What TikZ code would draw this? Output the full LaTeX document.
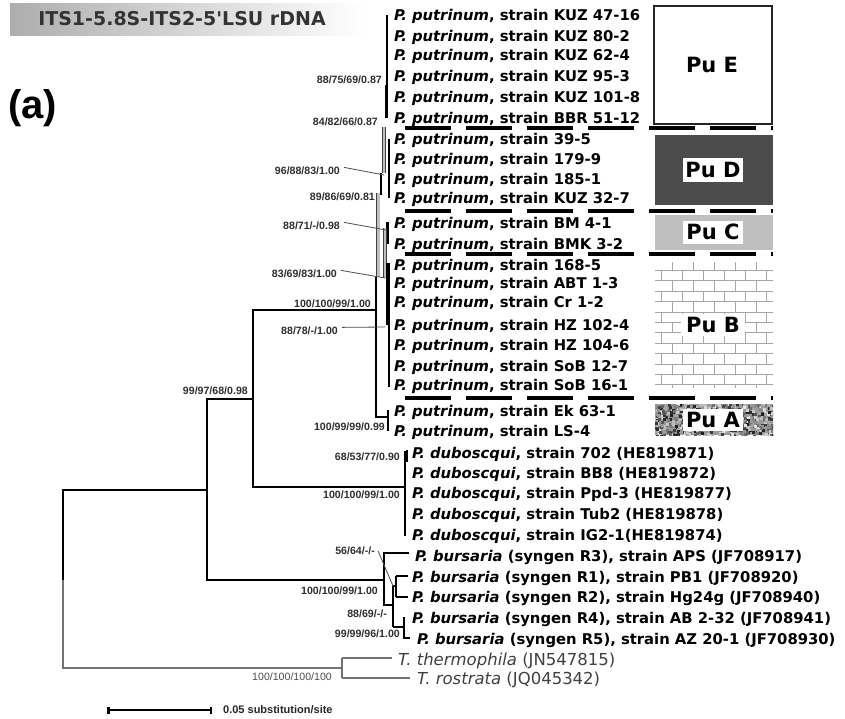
\documentclass[tikz,border=0pt]{standalone}
\usepackage{fontspec}
\setmainfont{DejaVu Sans}
\newfontfamily\labfont{Liberation Sans}
\usetikzlibrary{arrows.meta}
\begin{document}
\begin{tikzpicture}[x=1pt,y=-1pt,
 taxon/.style={anchor=base west,inner sep=0pt,font=\fontsize{14.8}{17}\selectfont\bfseries},
 outtaxon/.style={anchor=base west,inner sep=0pt,font=\fontsize{16.5}{19}\selectfont,text=black!75},
 supp/.style={anchor=base east,inner sep=0pt,font=\labfont\fontsize{10.6}{12}\selectfont\bfseries,text=black!82},
 branch/.style={line width=2.6pt,line cap=rect},
 twig/.style={line width=1.5pt},
 outbr/.style={line width=1.3pt,draw=black!55},
 hollow/.style={draw=black!75,line width=0.9pt,double=black!25,double distance=1.8pt},
 leader/.style={line width=0.8pt,draw=black!70},
 sepline/.style={line width=4pt,dash pattern=on 46pt off 15pt},
 pulab/.style={font=\fontsize{21}{24}\selectfont\bfseries,inner sep=0pt,fill=white,minimum width=60pt,minimum height=24pt},
 brick/.style={line width=0.9pt,draw=black!35},
]
\useasboundingbox (0,0) rectangle (845,718);

% title
\shade[left color=black!32,right color=white] (10,3) rectangle (365,35);
\node[font=\fontsize{19}{22}\selectfont\bfseries,text=black!80] (title) at (182,19) {ITS1-5.8S-ITS2-5\textquotesingle LSU rDNA};
\node[font=\labfont\fontsize{40}{44}\selectfont\bfseries,anchor=west,inner sep=0pt] (panel) at (8,108) {(a)};

% ---------- taxa ----------
\foreach \yy/\s [count=\i] in {15/KUZ 47-16,36/KUZ 80-2,55/KUZ 62-4,76/KUZ 95-3,97/KUZ 101-8,118/BBR 51-12,139/39-5,159/179-9,179/185-1,198/KUZ 32-7,223/BM 4-1,244/BMK 3-2,265/168-5,283/ABT 1-3,302/Cr 1-2,325/HZ 102-4,345/HZ 104-6,366/SoB 12-7,385/SoB 16-1,411/Ek 63-1,431/LS-4}
  \node[taxon] (pu\i) at (394,\yy+5) {\textit{P. putrinum}, strain \s};
\foreach \yy/\s [count=\i] in {453/702 (HE819871),473/BB8 (HE819872),493/Ppd-3 (HE819877),514/Tub2 (HE819878),535/IG2-1(HE819874)}
  \node[taxon] (du\i) at (412,\yy+5) {\textit{P. duboscqui}, strain \s};
\node[taxon] (bu1) at (415,561) {\textit{P. bursaria} (syngen R3), strain APS (JF708917)};
\node[taxon] (bu2) at (412,582) {\textit{P. bursaria} (syngen R1), strain PB1 (JF708920)};
\node[taxon] (bu3) at (412,602) {\textit{P. bursaria} (syngen R2), strain Hg24g (JF708940)};
\node[taxon] (bu4) at (412,623) {\textit{P. bursaria} (syngen R4), strain AB 2-32 (JF708941)};
\node[taxon] (bu5) at (417,644) {\textit{P. bursaria} (syngen R5), strain AZ 20-1 (JF708930)};
\node[outtaxon] (te1) at (398,665.5) {\textit{T. thermophila} (JN547815)};
\node[outtaxon] (te2) at (417,684.5) {\textit{T. rostrata} (JQ045342)};

% ---------- tree nodes ----------
\coordinate (r0) at (63,490);  \coordinate (r1) at (63,580);  \coordinate (r2) at (63,668);
\coordinate (a0) at (207,399); \coordinate (a1) at (207,490); \coordinate (a2) at (207,580);
\coordinate (b0) at (253,310); \coordinate (b1) at (253,399); \coordinate (b2) at (253,487);
\coordinate (c0) at (376,310); \coordinate (c1) at (376,277); \coordinate (c2) at (376,417);
\coordinate (k0) at (388,417); \coordinate (k1) at (388,410); \coordinate (k2) at (388,431);
\coordinate (d0) at (405,487); \coordinate (d1) at (405,452); \coordinate (d2) at (405,535);
\coordinate (e0) at (384,580); \coordinate (e1) at (384,553); \coordinate (e2) at (384,605);
\coordinate (f0) at (393,605); \coordinate (f1) at (393,586); \coordinate (f2) at (393,627);
\coordinate (g0) at (396,586); \coordinate (g1) at (396,576); \coordinate (g2) at (396,597);
\coordinate (h0) at (404,627); \coordinate (h1) at (404,617); \coordinate (h2) at (404,638);
\coordinate (t0) at (342,668); \coordinate (t1) at (342,658); \coordinate (t2) at (342,678);

% root and backbone
\draw[branch] (r1) -- (r0) -- (a1);
\draw[outbr] (r1) -- (r2) -- (t0);
\draw[branch] (a0) -- (a2);
\draw[branch] (a0) -- (b1);
\draw[branch] (b0) -- (b2);
\draw[branch] (b0) -- (c0);
\draw[branch] (b2) -- (d0);
\draw[branch] (d1) -- (d2);
\draw[line width=2.2pt] (407,450) -- (407,462);
% P. putrinum clade
\draw[twig] (c1) -- (c2) -- (k0);
\draw[twig] (k1) -- (k2);
\draw[hollow,double distance=3pt] (378,193) -- (378,277);
\draw[twig] (381,173) -- (381,195);
\draw[hollow] (384,127) -- (384,173);
\draw[twig] (387,15) -- (387,118);
\draw[line width=3pt] (386,85) -- (386,118);
\draw[twig] (389,139) -- (389,198);
\draw[line width=3pt] (387,222) -- (387,244);
\draw[hollow] (385,228) -- (385,278);
\draw[twig] (389,263) -- (389,387);
\draw[line width=3pt] (387,263) -- (387,325);
% P. bursaria clade
\draw[branch] (a2) -- (e0);
\draw[branch] (e1) -- (e2) -- (f0);
\draw[branch] (e1) -- (408,553);
\draw[line width=2.2pt] (f1) -- (f2);
\draw[line width=2.2pt] (f1) -- (g0);
\draw[line width=2.2pt] (g1) -- (g2);
\draw[line width=2.2pt] (g1) -- (408,576);
\draw[line width=2.2pt] (g2) -- (408,597);
\draw[line width=2.2pt] (f2) -- (h0);
\draw[line width=2.2pt] (h1) -- (h2) -- (410,638);
% Tetrahymena
\draw[outbr] (t1) -- (t2);
\draw[outbr] (t1) -- (392,658);
\draw[outbr] (t2) -- (410,678);

% ---------- support values ----------
\node[supp] (s1)  at (382,83.6)  {88/75/69/0.87};
\node[supp] (s2)  at (378,125.6) {84/82/66/0.87};
\node[supp] (s3)  at (340,174.6) {96/88/83/1.00};
\node[supp] (s4)  at (375,200.6) {89/86/69/0.81};
\node[supp] (s5)  at (340,229.6) {88/71/-/0.98};
\node[supp] (s6)  at (337,277.6) {83/69/83/1.00};
\node[supp] (s7)  at (371,307.6) {100/100/99/1.00};
\node[supp] (s8)  at (338,334.6) {88/78/-/1.00};
\node[supp] (s9)  at (248,394.6) {99/97/68/0.98};
\node[supp] (s10) at (385,430.6) {100/99/99/0.99};
\node[supp] (s11) at (400,460.6) {68/53/77/0.90};
\node[supp] (s12) at (400,498.6) {100/100/99/1.00};
\node[supp] (s13) at (375,554.6) {56/64/-/-};
\node[supp] (s14) at (378,594.6) {100/100/99/1.00};
\node[supp] (s15) at (387,617.6) {88/69/-/-};
\node[supp] (s16) at (400,637.6) {99/99/96/1.00};
\node[supp,font=\labfont\fontsize{10.6}{12}\selectfont,text=black!70] (s17) at (332,680.6) {100/100/100/100};
% leader lines
\draw[leader] (s3.east) ++(4,-3.5) -- (384,175);
\draw[leader] (s5.east) ++(4,-3.5) -- (386,230);
\draw[leader] (s6.east) ++(4,-3.5) -- (385,278);
\draw[leader] (s8.east) ++(4,-3.5) -- (385,327);
\draw[leader] (s13.east) ++(3,0) -- (f1);

% ---------- group separators ----------
\foreach \yy in {128,211,254,398} \draw[sepline] (405,\yy) -- (773,\yy);

% ---------- group boxes ----------
\draw[line width=2.5pt,draw=black!85,fill=white] (654,6) rectangle (772,124);
\node[pulab,fill=none] (puE) at (712,65) {Pu E};
\fill[black!70] (655,135) rectangle (773,205);
\node[pulab] (puD) at (713,170) {Pu D};
\fill[black!25] (655,215) rectangle (773,250);
\node[pulab,minimum height=23pt] (puC) at (713,232) {Pu C};
\begin{scope}
 \clip (655,262) rectangle (773,387);
 \foreach \k in {0,...,11} \draw[brick] (655,270.5+\k*10.4) -- (773,270.5+\k*10.4);
 \foreach \k in {0,...,12}{
   \pgfmathsetmacro\ya{260.1+\k*10.4}
   \pgfmathsetmacro\xo{mod(\k,2)==1 ? 661.5 : 672}
   \foreach \j in {-1,...,5} \draw[brick] (\xo+21*\j,\ya) -- ++(0,10.4);
 }
\end{scope}
\node[pulab,minimum width=64pt,minimum height=22pt] (puB) at (713,325) {Pu B};
\begin{scope}
 \clip (655,404) rectangle (773,435);
 \fill[black!40] (655,404) rectangle (773,435);
 \pgfmathsetseed{11}
 \foreach \k in {1,...,650}{
   \pgfmathsetmacro\px{654+119*rnd}
   \pgfmathsetmacro\py{403+32*rnd}
   \pgfmathtruncatemacro\g{10+80*rnd}
   \fill[black!\g] (\px,\py) rectangle ++(3,3);
 }
\end{scope}
\node[pulab,minimum height=22pt] (puA) at (713,420) {Pu A};

% ---------- scale bar ----------
\coordinate (sb1) at (107,710); \coordinate (sb2) at (212,710);
\draw[line width=2.5pt,{Bar[width=7pt]}-{Bar[width=7pt]}] (sb1) -- (sb2);
\node[anchor=west,inner sep=0pt,font=\labfont\fontsize{11}{13}\selectfont\bfseries,text=black!85] (sbt) at (223,710) {0.05 substitution/site};
\end{tikzpicture}
\end{document}
